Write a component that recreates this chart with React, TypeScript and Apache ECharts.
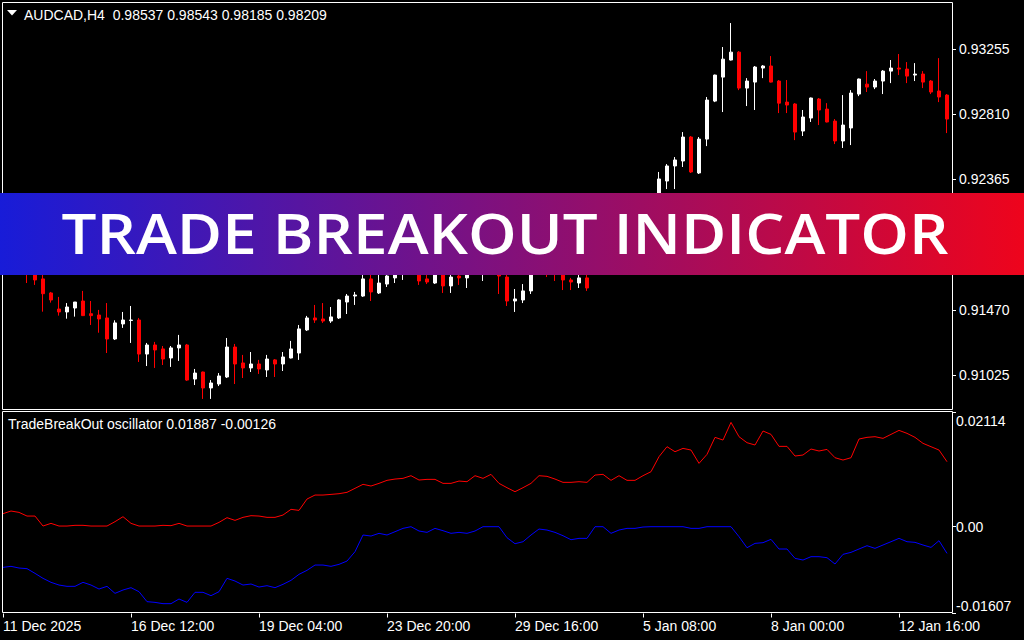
import React, { useEffect, useRef } from "react";
import * as echarts from "echarts";

// [open, close, low, high] per H4 bar
const candles: number[][] = [
  [0.9179, 0.9172, 0.91656, 0.9183], [0.9172, 0.9176, 0.91715, 0.918], [0.9176, 0.9174, 0.9172, 0.9179],
  [0.9176, 0.9172, 0.91656, 0.9179], [0.9173, 0.91677, 0.91643, 0.9176], [0.91684, 0.91583, 0.9146, 0.9172],
  [0.91588, 0.9154, 0.91522, 0.91595], [0.91478, 0.91458, 0.91433, 0.91561], [0.91458, 0.91492, 0.91412, 0.91519],
  [0.91485, 0.91526, 0.91426, 0.91526], [0.91533, 0.91433, 0.9143, 0.91602], [0.91446, 0.91433, 0.91369, 0.91533],
  [0.91437, 0.9141, 0.91316, 0.91472], [0.91417, 0.91273, 0.91177, 0.91519], [0.91273, 0.91383, 0.91266, 0.91401],
  [0.91376, 0.91403, 0.91349, 0.91458], [0.914, 0.91403, 0.91246, 0.91499], [0.91403, 0.9117, 0.91116, 0.91417],
  [0.9117, 0.91232, 0.91088, 0.91246], [0.91232, 0.91198, 0.91075, 0.91253], [0.91205, 0.91136, 0.91095, 0.91225],
  [0.91143, 0.91212, 0.91082, 0.91225], [0.91212, 0.91232, 0.91123, 0.91301], [0.91232, 0.90992, 0.90986, 0.91239],
  [0.90999, 0.9104, 0.90958, 0.91068], [0.91047, 0.90938, 0.90863, 0.9105], [0.90938, 0.90972, 0.90863, 0.90992],
  [0.90965, 0.9102, 0.90951, 0.9104], [0.91013, 0.91218, 0.91006, 0.9128], [0.91218, 0.91102, 0.90965, 0.91239],
  [0.91109, 0.91075, 0.91006, 0.91164], [0.91075, 0.91102, 0.91047, 0.91184], [0.91102, 0.91068, 0.91034, 0.9113],
  [0.91061, 0.91136, 0.91013, 0.91164], [0.9113, 0.91102, 0.91013, 0.91136], [0.91102, 0.9115, 0.91054, 0.91184],
  [0.91143, 0.91205, 0.9114, 0.9126], [0.91177, 0.91342, 0.9113, 0.91369], [0.91335, 0.91417, 0.91328, 0.91431],
  [0.91417, 0.91403, 0.91383, 0.91506], [0.9141, 0.91396, 0.91383, 0.91519], [0.91396, 0.91424, 0.91383, 0.91492],
  [0.91417, 0.9154, 0.9141, 0.91545], [0.91526, 0.91567, 0.91444, 0.91581], [0.91567, 0.91574, 0.91506, 0.91595],
  [0.91567, 0.91684, 0.91561, 0.9173], [0.91684, 0.91595, 0.91533, 0.9174], [0.91588, 0.91656, 0.91581, 0.9172],
  [0.91649, 0.91704, 0.91629, 0.9173], [0.91691, 0.9174, 0.91656, 0.9177], [0.9174, 0.9178, 0.91677, 0.918],
  [0.9178, 0.9176, 0.9173, 0.9181], [0.9176, 0.9167, 0.91643, 0.9179], [0.91684, 0.91663, 0.91649, 0.9172],
  [0.91656, 0.9174, 0.9165, 0.9176], [0.9175, 0.91636, 0.91588, 0.9177], [0.91636, 0.91697, 0.91588, 0.9173],
  [0.91704, 0.91691, 0.91643, 0.9174], [0.91691, 0.9175, 0.91622, 0.9178], [0.9175, 0.9178, 0.9173, 0.918],
  [0.9176, 0.918, 0.9167, 0.9183], [0.918, 0.9178, 0.9174, 0.9182], [0.9178, 0.91704, 0.91581, 0.918],
  [0.91697, 0.91533, 0.91499, 0.9172], [0.91533, 0.91547, 0.91458, 0.91615], [0.9154, 0.91602, 0.91519, 0.91649],
  [0.91602, 0.9176, 0.91581, 0.9178], [0.9176, 0.9179, 0.9174, 0.9182], [0.918, 0.9174, 0.91697, 0.9183],
  [0.9175, 0.9172, 0.9167, 0.9178], [0.9173, 0.91677, 0.91608, 0.9175], [0.91677, 0.91663, 0.91608, 0.91691],
  [0.91656, 0.91691, 0.91622, 0.9172], [0.91691, 0.91622, 0.91602, 0.9172], [0.9174, 0.9179, 0.9172, 0.9182],
  [0.9179, 0.9186, 0.9177, 0.9189], [0.9186, 0.9183, 0.918, 0.919], [0.9183, 0.9192, 0.9181, 0.9195],
  [0.9192, 0.9201, 0.919, 0.9204], [0.9201, 0.9198, 0.9195, 0.9206], [0.9198, 0.9209, 0.9196, 0.9213],
  [0.9209, 0.922, 0.9206, 0.9225], [0.922, 0.92368, 0.9218, 0.92416], [0.92354, 0.92457, 0.92299, 0.9247],
  [0.92457, 0.92498, 0.92299, 0.92518], [0.92491, 0.92655, 0.9245, 0.92689], [0.92655, 0.92416, 0.92409, 0.92662],
  [0.92409, 0.92641, 0.92402, 0.92655], [0.92641, 0.92908, 0.92593, 0.92929], [0.92901, 0.93079, 0.92894, 0.93082],
  [0.93065, 0.93188, 0.92826, 0.93271], [0.93182, 0.93236, 0.93179, 0.93435], [0.93236, 0.9299, 0.92976, 0.93243],
  [0.9299, 0.93038, 0.92867, 0.93058], [0.93031, 0.93134, 0.9284, 0.93141], [0.93127, 0.93141, 0.93058, 0.93147],
  [0.93141, 0.93031, 0.93028, 0.93209], [0.93038, 0.92887, 0.92819, 0.93045], [0.92894, 0.92874, 0.92819, 0.93045],
  [0.92881, 0.92689, 0.92634, 0.92887], [0.92696, 0.92792, 0.92662, 0.9284], [0.92785, 0.92922, 0.92758, 0.92925],
  [0.92915, 0.9284, 0.92737, 0.92922], [0.92846, 0.92758, 0.92755, 0.92887], [0.92764, 0.92628, 0.92607, 0.92778],
  [0.92628, 0.92737, 0.9258, 0.92942], [0.92717, 0.92956, 0.926, 0.92976], [0.92949, 0.93052, 0.92935, 0.93055],
  [0.93017, 0.92997, 0.92963, 0.93106], [0.92997, 0.93038, 0.92983, 0.93052], [0.93038, 0.93106, 0.92949, 0.93113],
  [0.93106, 0.93127, 0.93024, 0.93182], [0.93127, 0.9312, 0.93079, 0.93223], [0.9312, 0.93072, 0.93024, 0.93168],
  [0.93079, 0.93086, 0.93038, 0.93161], [0.93086, 0.93031, 0.9299, 0.93106], [0.93038, 0.92963, 0.92949, 0.93045],
  [0.9297, 0.92929, 0.92894, 0.93195], [0.92942, 0.92778, 0.92682, 0.92949],
];

const upperLine: number[] = [
  0.00241, 0.0029, 0.00265, 0.00197, 0.00197, 0.00012, 0.00062, 0.00012, 0.00012, 0.00025,
  0.00025, 0.00012, 0.00012, 0.00012, 0.00093, 0.00185, 0.00062, 0.00012, 0.00012, 0.00012,
  0.00025, 0.00019, 0.00062, 0.00012, 0.00012, 0.00012, 0.00012, 0.0008, 0.00167, 0.00117,
  0.00173, 0.00204, 0.00197, 0.00173, 0.00173, 0.00216, 0.00321, 0.00302, 0.00512, 0.00586,
  0.00586, 0.00598, 0.00611, 0.00636, 0.0071, 0.00784, 0.00753, 0.00802, 0.00858, 0.00882,
  0.00895, 0.00944, 0.00864, 0.00876, 0.00876, 0.00802, 0.00802, 0.00845, 0.00833, 0.00944,
  0.00895, 0.00969, 0.00802, 0.00722, 0.00648, 0.00722, 0.00802, 0.00944, 0.00932, 0.00882,
  0.00821, 0.00821, 0.00833, 0.00821, 0.00956, 0.00969, 0.00858, 0.00944, 0.00858, 0.00858,
  0.00944, 0.01018, 0.01296, 0.01481, 0.01388, 0.0145, 0.01419, 0.01172, 0.01339, 0.01654,
  0.01604, 0.01931, 0.01666, 0.01555, 0.01512, 0.01771, 0.01709, 0.01487, 0.01487, 0.01308,
  0.01327, 0.01438, 0.01401, 0.01431, 0.01277, 0.01234, 0.01277, 0.01623, 0.01654, 0.01666,
  0.01635, 0.01709, 0.01783, 0.01728, 0.01654, 0.01543, 0.01481, 0.01419, 0.01203,
];

const lowerLine: number[] = [
  -0.00753, -0.00734, -0.00765, -0.00777, -0.00864, -0.00956, -0.0103, -0.0108, -0.01104, -0.01104,
  -0.0103, -0.0108, -0.01154, -0.01104, -0.01234, -0.01172, -0.01129, -0.01203, -0.01388, -0.01401,
  -0.01425, -0.01425, -0.01339, -0.01401, -0.01215, -0.01215, -0.01277, -0.01203, -0.00956, -0.01006,
  -0.0108, -0.01061, -0.01117, -0.01092, -0.01129, -0.01067, -0.00993, -0.00882, -0.00808, -0.0071,
  -0.0071, -0.00734, -0.00697, -0.00636, -0.00463, -0.00154, -0.00173, -0.00123, -0.00154, -0.00093,
  -0.00031, 0, -0.0008, -0.00105, -0.00031, -0.00074, -0.00123, -0.00105, -0.00123, -0.0008,
  0, 0, 0, -0.00204, -0.00315, -0.00278, -0.00154, -0.00043, -0.00062, -0.00105,
  -0.00167, -0.00241, -0.00216, -0.00216, 0, 0, -0.00123, -0.00062, -0.00031, -0.00031,
  -0.00006, 0, 0, 0, 0, 0, -0.00031, -0.00031, 0, 0,
  0, 0, -0.00185, -0.00389, -0.00309, -0.00296, -0.00234, -0.00413, -0.00413, -0.00586,
  -0.00617, -0.00555, -0.00555, -0.00574, -0.00691, -0.00512, -0.00475, -0.00413, -0.00352, -0.00401,
  -0.00339, -0.00278, -0.00216, -0.00278, -0.0029, -0.00339, -0.00383, -0.00259, -0.00494,
];

const xTickLabels = [
  "11 Dec 2025", "16 Dec 12:00", "19 Dec 04:00", "23 Dec 20:00",
  "29 Dec 16:00", "5 Jan 08:00", "8 Jan 00:00", "12 Jan 16:00",
];
const TICK_STEP = 16;
const priceTicks = [0.91025, 0.9147, 0.9192, 0.92365, 0.9281, 0.93255];
const priceMin = 0.90794;
const priceMax = 0.93579;
const oscMin = -0.01607;
const oscMax = 0.02114;
const oscTicks = [oscMin, 0, oscMax];

const chartTitle = "AUDCAD,H4  0.98537 0.98543 0.98185 0.98209";
const oscTitle = "TradeBreakOut oscillator 0.01887 -0.00126";
const bannerText = "TRADE BREAKOUT INDICATOR";

const categories = candles.map((_, i) => String(i));
const FONT = '"Liberation Sans", Arial, sans-serif';

export default function App() {
  const ref = useRef<HTMLDivElement>(null);
  useEffect(() => {
    if (!ref.current) return;
    const chart = echarts.init(ref.current, null, { renderer: "svg" });
    const txt = { color: "#ffffff", fontFamily: FONT, fontSize: 14 };
    const option: any = {
      animation: false,
      backgroundColor: "#000000",
      grid: [
        { left: 3, top: 2, width: 944, height: 407 },
        { left: 3, top: 412.5, width: 944, height: 201 },
      ],
      xAxis: [
        { type: "category", gridIndex: 0, data: categories, boundaryGap: false, show: false },
        {
          type: "category", gridIndex: 1, data: categories, boundaryGap: false, position: "bottom",
          axisLine: { show: false, onZero: false },
          splitLine: { show: false },
          axisTick: {
            show: true, length: 4, lineStyle: { color: "#ffffff" },
            interval: (i: number) => i % TICK_STEP === 0,
          },
          axisLabel: {
            ...txt, show: true, align: "left", margin: 5,
            interval: (i: number) => i % TICK_STEP === 0,
            formatter: (_v: string, i: number) => xTickLabels[i / TICK_STEP] ?? "",
          },
        },
      ],
      yAxis: [
        {
          type: "value", gridIndex: 0, min: priceMin, max: priceMax, position: "right", offset: 5,
          axisLine: { show: false }, splitLine: { show: false },
          axisTick: { show: true, length: 4, lineStyle: { color: "#ffffff" }, customValues: priceTicks },
          axisLabel: { ...txt, customValues: priceTicks, margin: 7, formatter: (v: number) => v.toFixed(5) },
        },
        {
          type: "value", gridIndex: 1, min: oscMin, max: oscMax, position: "right", offset: 5,
          axisLine: { show: false }, splitLine: { show: false },
          axisTick: { show: true, length: 4, lineStyle: { color: "#ffffff" }, customValues: oscTicks },
          axisLabel: {
            ...txt, customValues: oscTicks, margin: 4, showMinLabel: true, showMaxLabel: true,
            formatter: (v: number) => {
              if (Math.abs(v - oscMax) < 1e-9) return "{t|" + v.toFixed(5) + "}";
              if (Math.abs(v - oscMin) < 1e-9) return "{b|" + v.toFixed(5) + "}";
              return "0.00";
            },
            rich: {
              t: { ...txt, padding: [16, 0, 0, 0] },
              b: { ...txt, padding: [0, 0, 16, 0] },
            },
          },
        },
      ],
      series: [
        {
          type: "candlestick", xAxisIndex: 0, yAxisIndex: 0, data: candles, barWidth: 4, clip: false,
          itemStyle: { color: "#ffffff", color0: "#ff0000", borderColor: "#ffffff", borderColor0: "#ff0000", borderWidth: 1 },
        },
        {
          type: "line", xAxisIndex: 1, yAxisIndex: 1, data: upperLine, symbol: "none", clip: false,
          lineStyle: { color: "#ff0000", width: 1 },
        },
        {
          type: "line", xAxisIndex: 1, yAxisIndex: 1, data: lowerLine, symbol: "none", clip: false,
          lineStyle: { color: "#0000ff", width: 1 },
        },
      ],
      graphic: [
        { type: "rect", z: 50, shape: { x: 2.5, y: 2.5, width: 950, height: 407 }, style: { fill: "none", stroke: "#ffffff", lineWidth: 1 } },
        { type: "rect", z: 50, shape: { x: 2.5, y: 411.5, width: 950, height: 201 }, style: { fill: "none", stroke: "#ffffff", lineWidth: 1 } },
        { type: "polygon", z: 50, shape: { points: [[7, 10], [17, 10], [12, 15.5]] }, style: { fill: "#ffffff" } },
        {
          type: "text", z: 50, x: 24, y: 15,
          style: { text: chartTitle, fill: "#ffffff", font: "14px " + FONT, textVerticalAlign: "middle", verticalAlign: "middle" },
        },
        {
          type: "text", z: 50, x: 8, y: 424,
          style: { text: oscTitle, fill: "#ffffff", font: "14px " + FONT, textVerticalAlign: "middle", verticalAlign: "middle" },
        },
        {
          type: "rect", z: 100, shape: { x: 0, y: 193, width: 1024, height: 82 },
          style: {
            fill: new echarts.graphic.LinearGradient(0, 0, 1, 0, [
              { offset: 0, color: "#181cd8" },
              { offset: 1, color: "#ee041c" },
            ]),
          },
        },
        {
          type: "text", z: 101, x: 505, y: 232, scaleX: 1.105,
          style: {
            text: bannerText, x: 0, y: 0, fill: "#ffffff",
            font: '600 56px "Open Sans", sans-serif',
            textAlign: "center", align: "center", textVerticalAlign: "middle", verticalAlign: "middle",
          },
        },
      ],
    };
    chart.setOption(option);
    return () => chart.dispose();
  }, []);
  return (
    <div
      ref={ref}
      style={{ position: "fixed", left: 0, top: 0, width: 1024, height: 640, background: "#000000" }}
    />
  );
}
